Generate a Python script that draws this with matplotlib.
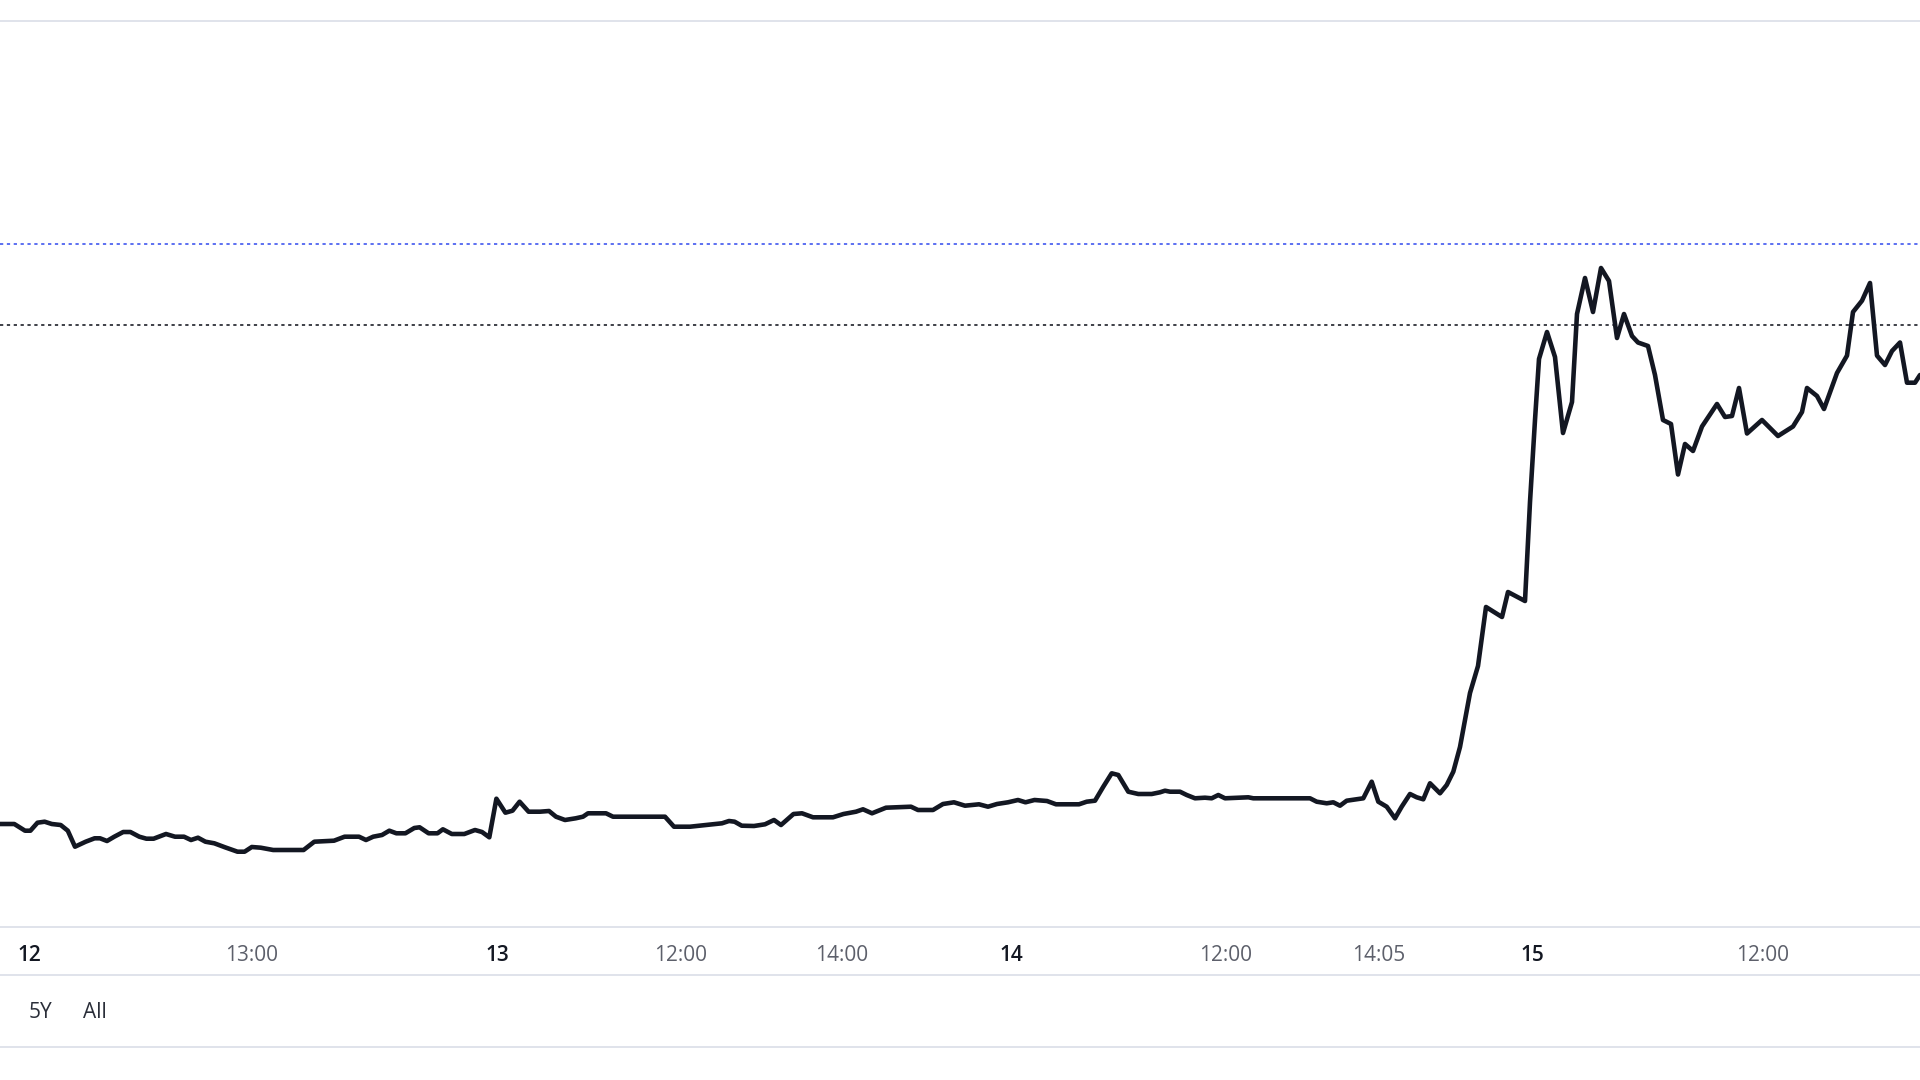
import matplotlib
matplotlib.use("Agg")
import matplotlib.pyplot as plt
from matplotlib.lines import Line2D

# price path (x = bar position, y = price in chart units)
t = [0, 14.3, 25, 30.4, 37.5, 44.6, 51.8, 60.7, 67.8, 75, 85.7, 94.6, 100, 107,
     114.3, 123.2, 130.4, 139.3, 146.4, 153.6, 166, 175, 184, 191, 198, 205.4,
     214.3, 225, 237.5, 244.6, 251.8, 260.7, 273.2, 303.6, 314.3, 334, 344.6,
     359, 366, 373.2, 382, 389.3, 396.4, 405.4, 414.3, 419.6, 428.6, 437.5,
     442.9, 451.8, 464.3, 475, 482, 489.3, 496.4, 505.4, 512.5, 519.6, 528.6,
     540, 549, 556, 565, 575.7, 583, 588, 606, 613, 665, 674, 690, 722, 729,
     734.6, 741.7, 754, 765, 774, 781, 793.5, 802, 813, 833, 843.5, 856, 863,
     872, 886, 911, 918, 933, 943, 954, 965, 979, 988, 997, 1008, 1018, 1025.5,
     1034.5, 1047, 1056, 1079, 1086.7, 1095, 1103.3, 1111.7, 1118.3, 1123.3,
     1128.3, 1138.3, 1151.7, 1160, 1165, 1170, 1180, 1186.7, 1195, 1205,
     1211.7, 1218.3, 1225, 1248.3, 1253.3, 1310, 1316.7, 1326.7, 1333.3, 1340,
     1346.7, 1356.7, 1363.3, 1371.7, 1378.3, 1386.7, 1395, 1401.7, 1410,
     1416.7, 1423.3, 1430, 1440, 1446.7, 1453.3, 1460, 1470, 1478, 1486, 1502,
     1508, 1525, 1530, 1535, 1539, 1547, 1555, 1563, 1572, 1577, 1585, 1593,
     1601, 1609, 1617, 1624, 1632, 1638, 1648, 1655, 1663, 1671, 1678, 1685,
     1693, 1702, 1717, 1725, 1732, 1739, 1747, 1762, 1778, 1793, 1802, 1807,
     1817, 1824, 1837, 1847, 1853, 1862, 1870, 1877, 1885, 1892, 1900, 1907,
     1915, 1920]
price = [103, 103, 96.3, 96.3, 104.3, 105.3, 103, 102, 96.3, 80.3, 85.3, 88.7,
         88.7, 86, 90.3, 95, 95, 90.3, 88.3, 88.3, 93, 90.3, 90.3, 87, 89.3,
         85.3, 83.7, 79.7, 75.3, 75.3, 80, 79.3, 77, 77, 85.3, 86.3, 90.3, 90.3,
         87, 90.3, 92, 96.3, 93.7, 93.7, 99, 99.7, 93.7, 93.7, 97.7, 93, 93, 97,
         95, 89.7, 128.3, 114.3, 116.3, 125.3, 115.3, 115.3, 116, 110.3, 107,
         108.7, 110.3, 113.7, 113.7, 110.3, 110.3, 100.3, 100.3, 103.7, 106,
         105.3, 101.3, 101, 102.7, 107, 102, 113, 113.7, 109.7, 109.7, 113,
         115.3, 117.7, 113.7, 119.3, 120.3, 117, 117, 123, 124.7, 121.3, 122.7,
         120.3, 123, 124.7, 127, 124.7, 127, 126, 122.7, 122.7, 125.3, 126.3,
         140.3, 153.7, 152, 143.7, 135.3, 133, 133, 134.7, 136.3, 135.3, 135.3,
         132, 128.7, 129.3, 128.7, 132, 128.7, 129.7, 128.7, 128.7, 125.3,
         123.7, 124.7, 121.3, 126.3, 127.7, 128.7, 145.3, 125.3, 120.3, 108.7,
         120.3, 133, 129.7, 127.7, 143.7, 133.7, 142, 155.3, 180, 234, 261, 320,
         310, 335, 326, 425, 507, 568, 595, 570, 494, 525, 613, 649, 615, 659,
         646, 589, 613, 591, 584.5, 581, 552, 507, 503, 452.5, 483, 476, 500.5,
         523, 510, 511, 539, 493.5, 507, 491, 500.5, 515, 539, 531, 518, 554,
         571.4, 615, 626.3, 644, 571.4, 562, 576, 584.5, 544.3, 544.3, 552]

high_level = 683   # blue dotted
prev_close = 602   # dark dotted

tick_pos = [29, 252, 497, 681, 842, 1011, 1226, 1379, 1532, 1763]
tick_labels = ["12", "13:00", "13", "12:00", "14:00", "14", "12:00", "14:05",
               "15", "12:00"]
day_labels = {"12", "13", "14", "15"}
ranges = ["1Y", "5Y", "All"]
range_pos = [-14, 40, 95]

plt.rcParams["font.family"] = ["Open Sans", "DejaVu Sans"]

W, H = 1920, 1080
fig = plt.figure(figsize=(19.2, 10.8), dpi=100, facecolor="white")
ax = fig.add_axes([0, 1 - 927 / H, 1, (927 - 21) / H])
ax.set_xlim(0, 1920)
ax.set_ylim(0, 906)

ax.axhline(high_level, color="#4f64f0", lw=1.3, linestyle=(0, (1.8, 2.0)))
ax.axhline(prev_close, color="#2f3139", lw=1.3, linestyle=(0, (1.8, 2.0)))
ax.plot(t, price, color="#131722", lw=3.3, solid_joinstyle="round",
        solid_capstyle="round", clip_on=True)

ax.set_yticks([])
ax.set_xticks(tick_pos, tick_labels)
ax.tick_params(axis="x", length=0, pad=13, labelsize=15, labelcolor="#5d606b")
for lab in ax.get_xticklabels():
    if lab.get_text() in day_labels:
        lab.set_fontweight("semibold")
        lab.set_color("#131722")
for spine in ax.spines.values():
    spine.set_visible(False)

# panel separators
for y in [21, 927, 975, 1047]:
    fig.add_artist(Line2D([0, 1], [1 - y / H, 1 - y / H],
                          transform=fig.transFigure, color="#e0e3eb", lw=1.4))

for name, x in zip(ranges, range_pos):
    fig.text(x / W, 1 - 1012 / H, name, ha="center", va="center",
             fontsize=15, color="#2a2e39")

fig.savefig("out.png", dpi=100, facecolor="white")
